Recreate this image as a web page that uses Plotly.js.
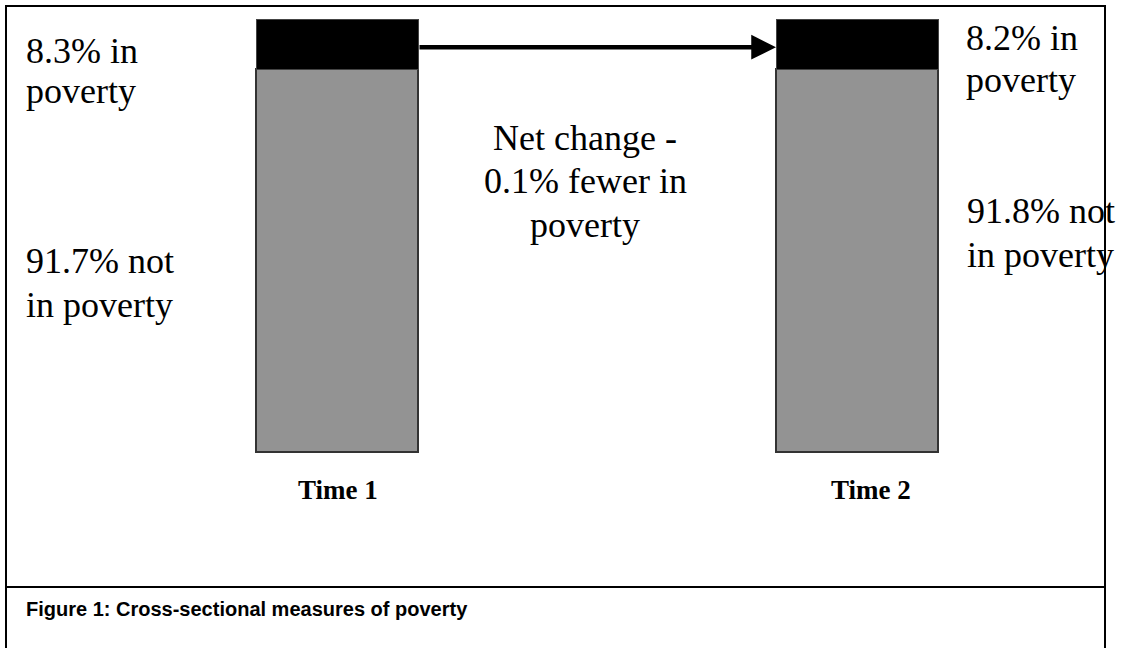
<!DOCTYPE html>
<html>
<head>
<meta charset="utf-8">
<script src="https://cdn.plot.ly/plotly-3.0.1.min.js"></script>
<style>
  html, body { margin: 0; padding: 0; background: #ffffff; }
  #chart { width: 1128px; height: 648px; }
</style>
</head>
<body>
<div id="chart"></div>
<script>
// ---- data ----
var categories = ["Time 1", "Time 2"];
// drawn share of each bar (schematic: both bars are drawn the same)
var notPovertyShare = [88.4, 88.4];
var povertyShare = [11.6, 11.6];
// labelled values
var povertyLabels = ["8.3% in", "8.2% in"];
var notPovertyLabels = ["91.7% not", "91.8% not"];
var netChangeLines = ["Net change -", "0.1% fewer in", "poverty"];
var captionText = "Figure 1: Cross-sectional measures of poverty";

// ---- layout helpers (pixel geometry of the figure) ----
var W = 1128, H = 648;
function px(x) { return x / W; }
function py(y) { return 1 - y / H; }
var serif = "Liberation Serif, Times New Roman, serif";
var sans = "Liberation Sans, Arial, sans-serif";
var S = 36; // label font size
function lineAnn(text, xPix, baseline, anchor, size, family, bold) {
  return {
    xref: "paper", yref: "paper",
    x: px(xPix), y: py(baseline - 0.34 * size),
    xanchor: anchor, yanchor: "middle",
    text: bold ? "<b>" + text + "</b>" : text,
    showarrow: false,
    font: { family: family, size: size, color: "#000" },
    borderpad: 0
  };
}

// axes: categories 0 and 1 at 337 px and 857 px; 520 px per category
var xPerPx = 1 / 520;
var xRange = [-337 * xPerPx, (W - 337) * xPerPx];
var yPerPx = 100 / 433; // bar 0..100 spans px 452..19
var yRange = [-(H - 452) * yPerPx, 100 + 19 * yPerPx];
var barWidth = 162 * xPerPx;

var traces = [
  {
    type: "bar", x: categories, y: notPovertyShare, name: "Not in poverty",
    width: barWidth,
    marker: { color: "#939393", line: { color: "#333333", width: 1.5 } },
    hoverinfo: "skip"
  },
  {
    type: "bar", x: categories, y: povertyShare, name: "In poverty",
    width: barWidth,
    marker: { color: "#000000", line: { color: "#444444", width: 1 } },
    hoverinfo: "skip"
  }
];

var annotations = [
  // left labels
  lineAnn(povertyLabels[0], 25, 63, "left", S, serif),
  lineAnn("poverty", 25, 103, "left", S, serif),
  lineAnn(notPovertyLabels[0], 25, 273, "left", S, serif),
  lineAnn("in poverty", 25, 317, "left", S, serif),
  // right labels
  lineAnn(povertyLabels[1], 965, 50, "left", S, serif),
  lineAnn("poverty", 965, 92, "left", S, serif),
  lineAnn(notPovertyLabels[1], 966, 223, "left", S, serif),
  lineAnn("in poverty", 966, 267, "left", S, serif),
  // centre text
  lineAnn(netChangeLines[0], 585, 150, "center", S, serif),
  lineAnn(netChangeLines[1], 585, 193, "center", S, serif),
  lineAnn(netChangeLines[2], 585, 237, "center", S, serif),
  // time labels
  lineAnn(categories[0], 338, 499, "center", 27, serif, true),
  lineAnn(categories[1], 871, 499, "center", 27, serif, true),
  // caption
  lineAnn(captionText, 25, 616, "left", 20, sans, true),
  // arrow from bar 1 to bar 2
  {
    xref: "x", yref: "y", axref: "x", ayref: "y",
    x: 1 - barWidth / 2, y: 93.5,
    ax: 0 + barWidth / 2, ay: 93.5,
    showarrow: true, arrowhead: 2, arrowsize: 1.1, arrowwidth: 4.5,
    arrowcolor: "#000", standoff: 0, text: ""
  }
];

var bw = 2;
var shapes = [
  { type: "line", xref: "paper", yref: "paper", x0: px(6), x1: px(6), y0: py(5), y1: py(H + 5), line: { color: "#000", width: bw } },
  { type: "line", xref: "paper", yref: "paper", x0: px(5), x1: px(1106), y0: py(6), y1: py(6), line: { color: "#000", width: bw } },
  { type: "line", xref: "paper", yref: "paper", x0: px(1105), x1: px(1105), y0: py(5), y1: py(H + 5), line: { color: "#000", width: bw } },
  { type: "line", xref: "paper", yref: "paper", x0: px(5), x1: px(1106), y0: py(587), y1: py(587), line: { color: "#000", width: bw } }
];

var layout = {
  width: W, height: H,
  margin: { l: 0, r: 0, t: 0, b: 0, pad: 0 },
  paper_bgcolor: "#ffffff", plot_bgcolor: "#ffffff",
  barmode: "stack",
  showlegend: false,
  xaxis: { type: "category", range: xRange, visible: false, fixedrange: true },
  yaxis: { range: yRange, visible: false, fixedrange: true },
  annotations: annotations,
  shapes: shapes
};

Plotly.newPlot("chart", traces, layout, { staticPlot: true, displayModeBar: false });
</script>
</body>
</html>
